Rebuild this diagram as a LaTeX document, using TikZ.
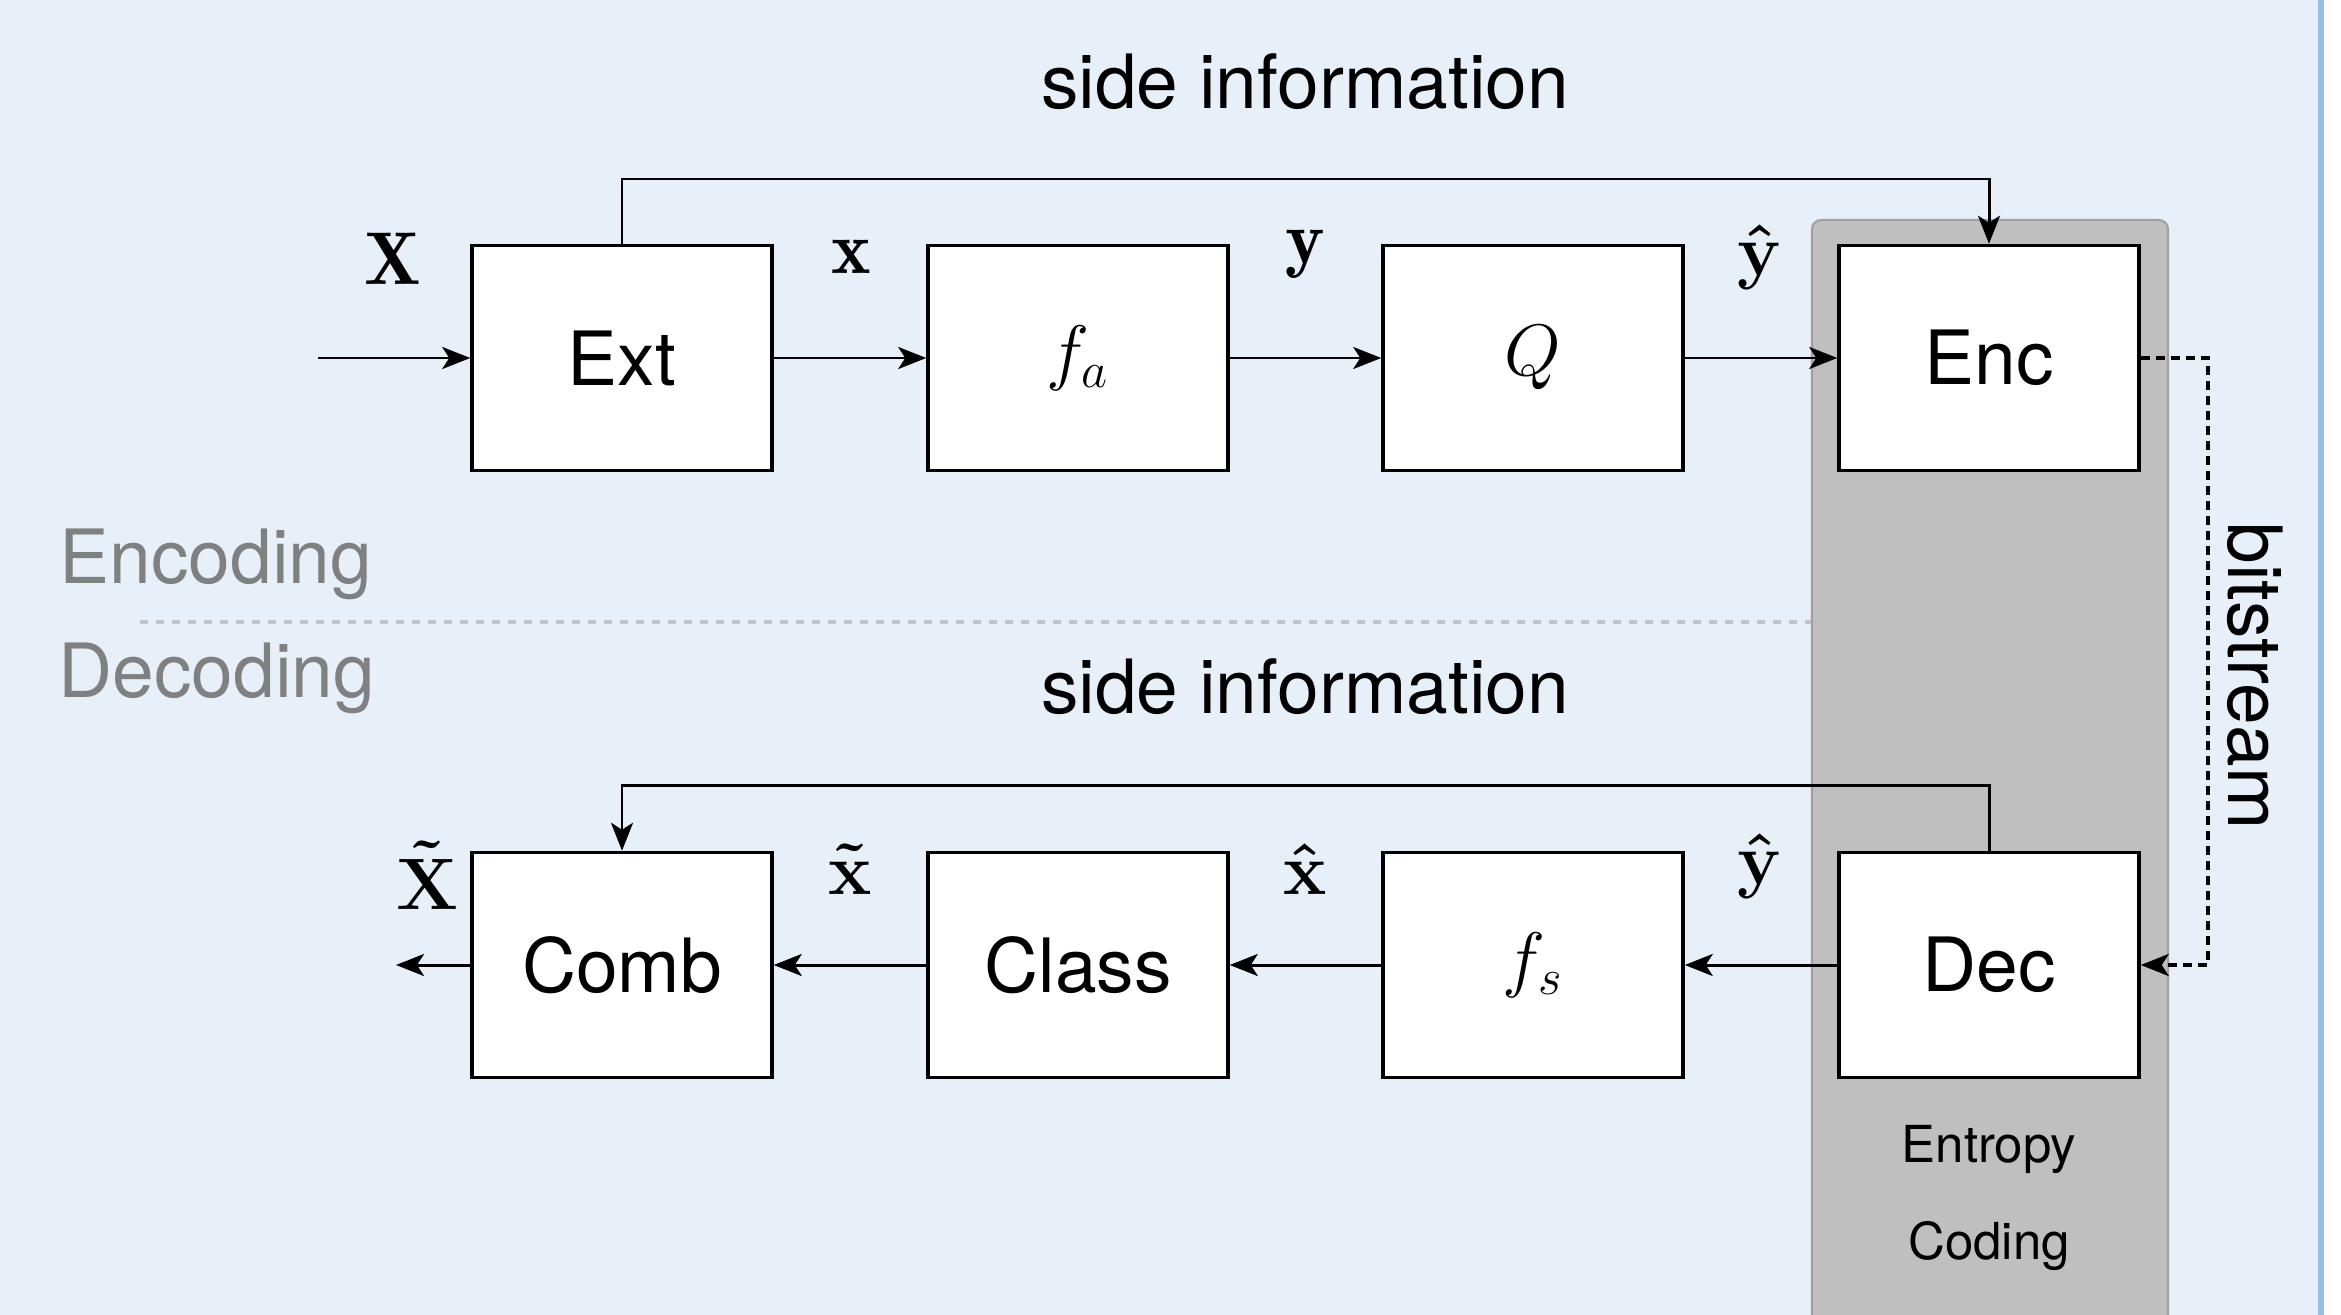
\documentclass[tikz,border=0pt]{standalone}
\usepackage{amsmath}
\usepackage{fontspec}
\newfontfamily\helv{TeX Gyre Heros}
\usetikzlibrary{arrows.meta}

\definecolor{bgblue}{RGB}{231,239,249}
\definecolor{edgeblue}{RGB}{150,190,232}
\definecolor{ecfill}{RGB}{191,191,191}
\definecolor{ecdraw}{RGB}{160,160,160}
\definecolor{phase}{RGB}{128,128,128}
\definecolor{sepgrey}{RGB}{196,196,196}

\begin{document}
\begin{tikzpicture}[x=0.01cm,y=-0.01cm,
  block/.style={draw=black, line width=0.95pt, fill=white,
    minimum width=3.0cm, minimum height=2.25cm, inner sep=0pt,
    font=\helv\fontsize{21.3}{25}\selectfont},
  tip/.style={-{Stealth[length=0.28cm,width=0.22cm,inset=0.07cm]}},
  flow/.style={line width=0.85pt, tip},
  bits/.style={line width=0.95pt, tip, dash pattern=on 0.09cm off 0.06cm},
  sig/.style={inner sep=0pt, font=\fontsize{21.3}{25}\selectfont},
  caption/.style={inner sep=0pt, font=\helv\fontsize{21.3}{25}\selectfont},
  phasetxt/.style={inner sep=0pt, text=phase, font=\helv\fontsize{21.3}{25}\selectfont},
  small/.style={inner sep=0pt, font=\helv\fontsize{14.5}{17}\selectfont}]

\useasboundingbox (0,0) rectangle (2341,1315);
\clip (0,0) rectangle (2341,1315);

% panel background and its right rule
\fill[bgblue] (0,0) rectangle (2318,1315);
\fill[edgeblue] (2318,0) rectangle (2324,1315);

% entropy coding band
\draw[fill=ecfill, draw=ecdraw, line width=0.6pt, rounded corners=0.09cm]
  (1812,1400) rectangle (2168,220);

% encoding / decoding separator
\draw[sepgrey, line width=0.9pt, dash pattern=on 0.08cm off 0.08cm]
  (140,622) -- (1811,622);
\node[phasetxt] (enclbl) at (216,564) {Encoding};
\node[phasetxt] (declbl) at (217,678) {Decoding};

% encoder chain
\node[block] (ext) at (622,358) {Ext};
\node[block] (fa)  at (1078,358) {$f_a$};
\node[block] (q)   at (1533,358) {$Q$};
\node[block] (enc) at (1989,358) {Enc};

% decoder chain
\node[block] (comb) at (622,965) {Comb};
\node[block] (cls)  at (1078,965) {Class};
\node[block] (fs)   at (1533,965) {$f_s$};
\node[block] (dec)  at (1989,965) {Dec};

% free ends and routing points
\coordinate (src)  at (318,358);
\coordinate (out)  at (396,965);
\coordinate (sitop) at (1300,179);
\coordinate (sibot) at (1300,785);
\coordinate (bsx)  at (2208,600);

% encoder connections
\draw[flow] (src) -- (ext.west);
\draw[flow] (ext) -- (fa);
\draw[flow] (fa) -- (q);
\draw[flow] (q) -- (enc);
\draw[flow] (ext.north) -- (ext.north |- sitop) -- (enc.north |- sitop) -- (enc.north);

% bitstream
\draw[bits] (enc.east) -- (enc.east -| bsx) -- (dec.east -| bsx) -- (dec.east);
\node[caption, rotate=-90] (bslbl) at (2255,676) {bitstream};

% decoder connections
\draw[flow] (dec) -- (fs);
\draw[flow] (fs) -- (cls);
\draw[flow] (cls) -- (comb);
\draw[flow] (comb.west) -- (out);
\draw[flow] (dec.north) -- (dec.north |- sibot) -- (comb.north |- sibot) -- (comb.north);

% captions
\node[caption] (sitxt1) at (1305,82) {side information};
\node[caption] (sitxt2) at (1305,687) {side information};
\node[small] (ent1) at (1989,1149) {Entropy};
\node[small] (ent2) at (1989,1246) {Coding};

% signal labels
\node[sig] (lX)  at (393,259) {$\mathbf{X}$};
\node[sig] (lx)  at (851,257) {$\mathbf{x}$};
\node[sig] (ly)  at (1305,254) {$\mathbf{y}$};
\node[sig] (lyh) at (1760,257) {$\boldsymbol{\hat{\mathbf{y}}}$};
\node[sig] (lXt) at (427,875) {$\boldsymbol{\tilde{\mathbf{X}}}$};
\node[sig] (lxt) at (850,869) {$\boldsymbol{\tilde{\mathbf{x}}}$};
\node[sig] (lxh) at (1305,869) {$\boldsymbol{\hat{\mathbf{x}}}$};
\node[sig] (lyd) at (1760,866) {$\boldsymbol{\hat{\mathbf{y}}}$};
\end{tikzpicture}
\end{document}
